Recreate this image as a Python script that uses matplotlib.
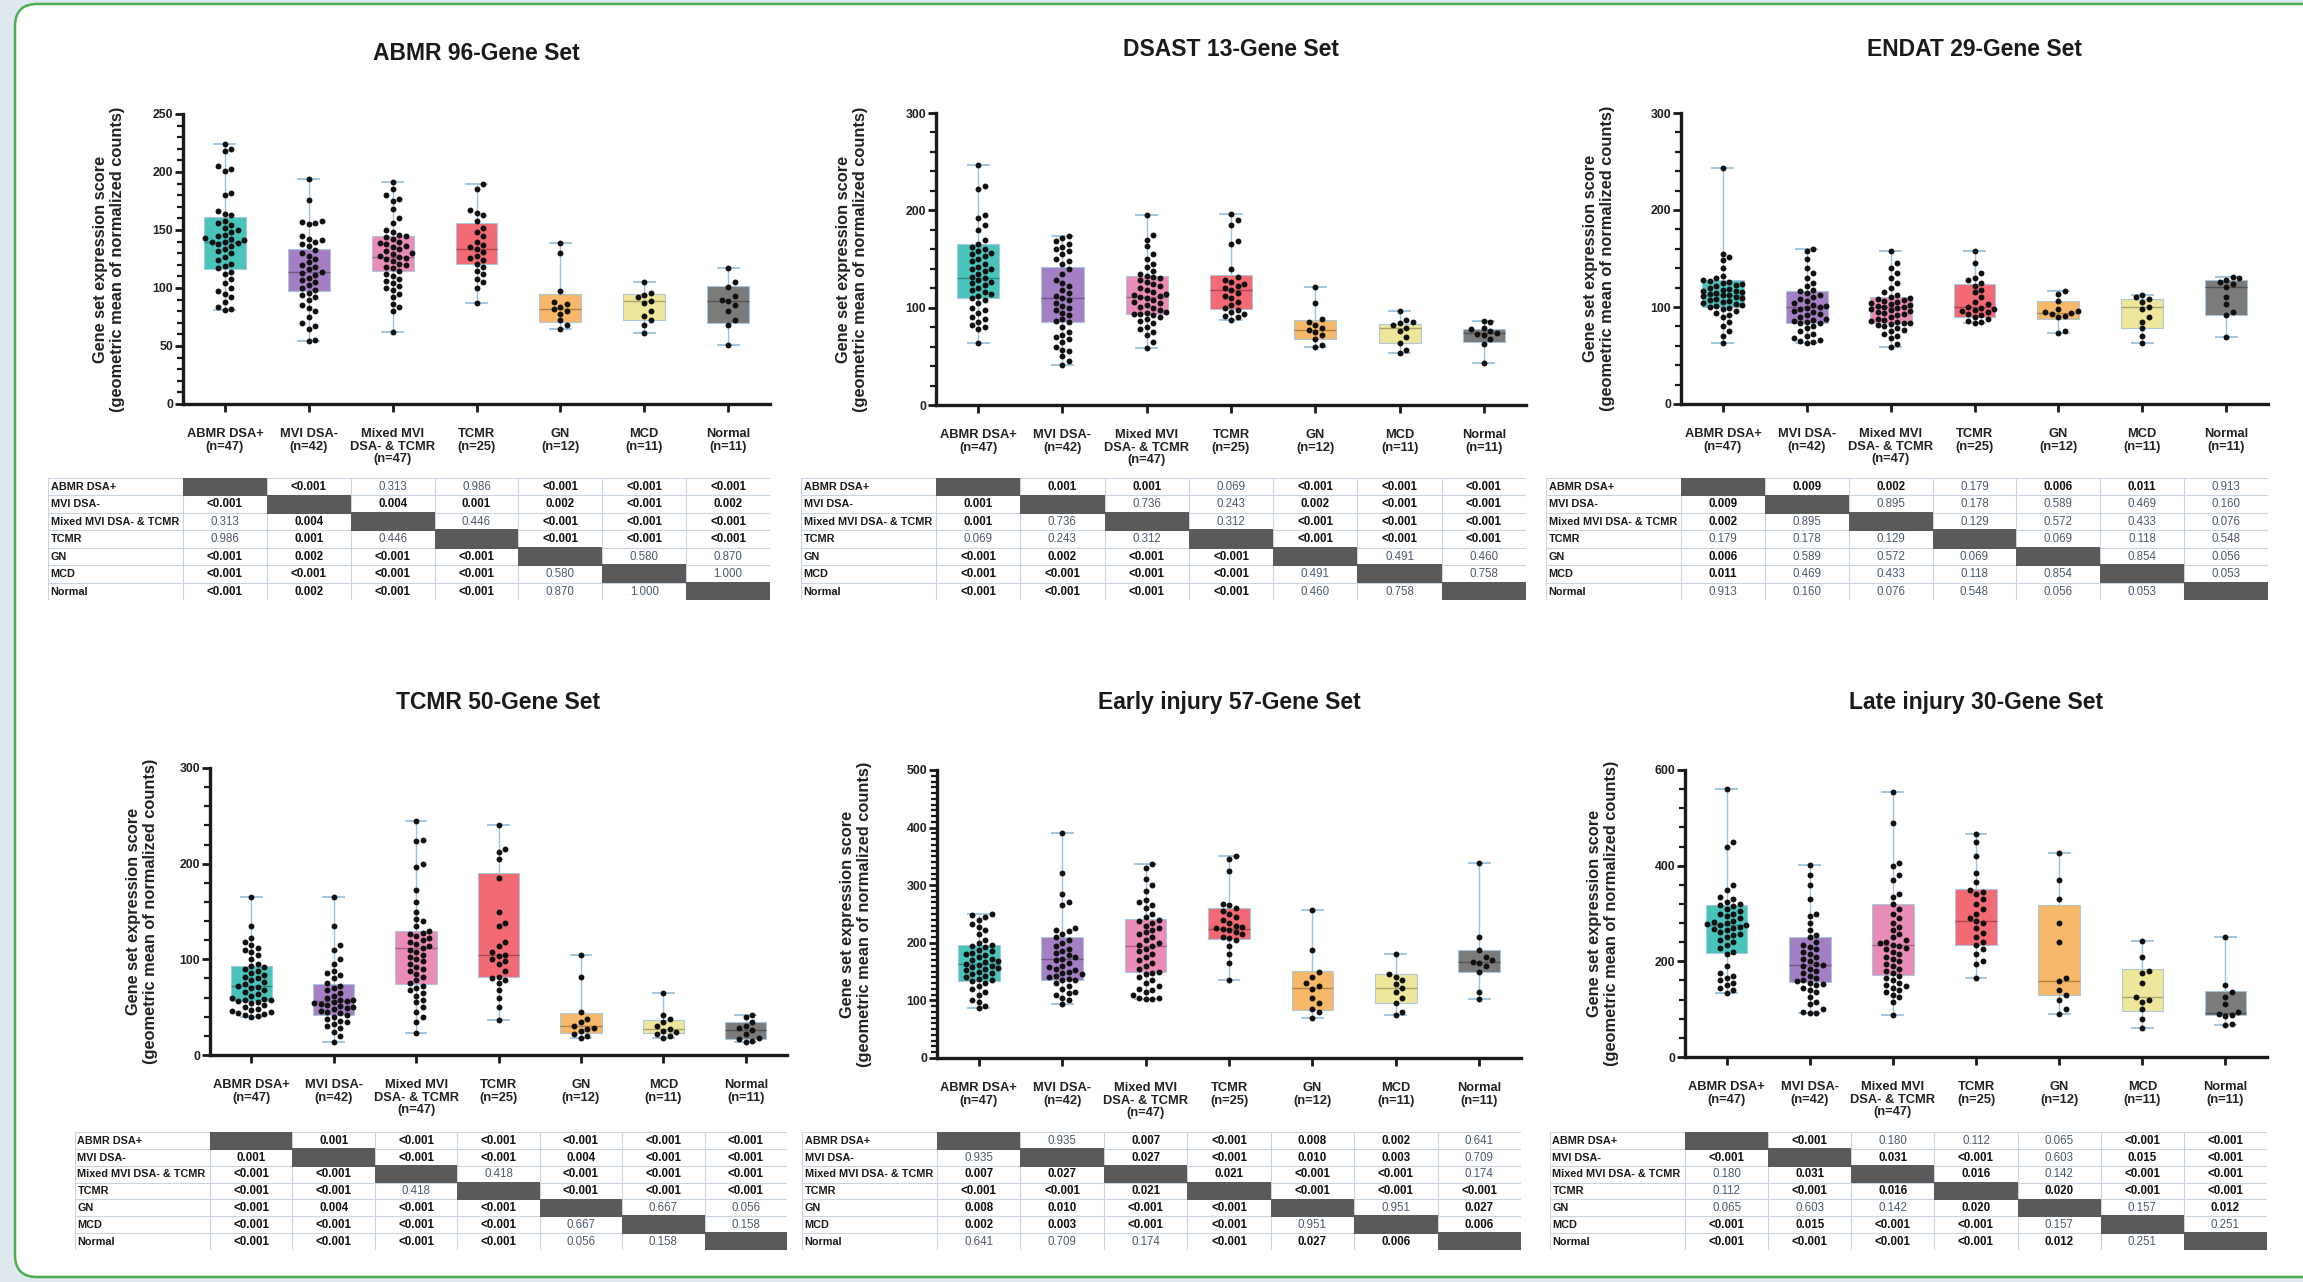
import numpy as np
import matplotlib
matplotlib.use("Agg")
import matplotlib.pyplot as plt
from matplotlib.patches import FancyBboxPatch, Rectangle
from matplotlib.ticker import MultipleLocator
from matplotlib.transforms import IdentityTransform
from matplotlib.colors import to_rgb

plt.rcParams['font.family'] = ['Liberation Sans', 'DejaVu Sans']

W, H, DPI = 2303, 1282, 100

# ---------------- categories ----------------
groups = ["ABMR DSA+", "MVI DSA-", "Mixed MVI\nDSA- & TCMR", "TCMR", "GN", "MCD", "Normal"]
group_n = [47, 42, 47, 25, 12, 11, 11]
row_labels = ["ABMR DSA+", "MVI DSA-", "Mixed MVI DSA- & TCMR", "TCMR", "GN", "MCD", "Normal"]
box_colors = ["#40c0b8", "#a078c0", "#e887b3", "#f2626c", "#f7b462", "#ece596", "#747474"]

# ---------------- ABMR 96-Gene Set ----------------
abmr96_q1 = [116, 97, 115, 121, 71, 72, 70]
abmr96_med = [140, 114, 127, 134, 82, 89, 89]
abmr96_q3 = [161, 134, 145, 156, 95, 95, 102]
abmr96_min = [81, 54, 62, 87, 65, 61, 51]
abmr96_max = [224, 194, 191, 190, 139, 105, 117]
abmr96_points = [
    [224, 220, 218, 205, 203, 201, 182, 180, 166, 164, 163, 158, 156, 154, 152, 150, 148, 146, 145, 143, 142, 141, 140, 140,
     139, 138, 136, 134, 132, 130, 127, 124, 121, 119, 117, 114, 112, 108, 104, 100, 97, 95, 92, 88, 84, 82, 81],
    [194, 176, 158, 157, 156, 155, 145, 142, 141, 140, 138, 136, 133, 130, 128, 125, 122, 120, 118, 116, 114, 113, 111, 109,
     107, 105, 103, 100, 98, 96, 94, 92, 90, 85, 83, 80, 75, 70, 67, 65, 55, 54],
    [191, 185, 180, 177, 175, 168, 160, 156, 150, 148, 146, 145, 144, 142, 140, 139, 138, 136, 135, 134, 132, 130, 129, 128,
     127, 126, 125, 123, 121, 120, 118, 117, 115, 112, 110, 108, 106, 104, 102, 100, 98, 95, 92, 86, 84, 80, 62],
    [190, 185, 167, 165, 163, 158, 152, 148, 145, 140, 137, 135, 134, 131, 128, 126, 124, 121, 118, 115, 112, 108, 105, 100, 87],
    [139, 130, 97, 88, 86, 84, 82, 80, 78, 72, 68, 65],
    [105, 96, 94, 92, 89, 87, 80, 76, 72, 68, 61],
    [117, 105, 101, 93, 90, 89, 85, 80, 72, 68, 51],
]
abmr96_p = ["<0.001", "0.313", "0.986", "<0.001", "<0.001", "<0.001",
            "0.004", "0.001", "0.002", "<0.001", "0.002",
            "0.446", "<0.001", "<0.001", "<0.001",
            "<0.001", "<0.001", "<0.001",
            "0.580", "0.870",
            "1.000"]

# ---------------- DSAST 13-Gene Set ----------------
dsast13_q1 = [110, 85, 93, 99, 68, 64, 65]
dsast13_med = [130, 110, 111, 118, 77, 79, 74]
dsast13_q3 = [165, 142, 133, 134, 87, 83, 78]
dsast13_min = [64, 41, 59, 87, 60, 53, 43]
dsast13_max = [247, 174, 195, 196, 121, 97, 86]
dsast13_points = [
    [247, 225, 222, 195, 192, 185, 180, 170, 165, 162, 160, 158, 156, 155, 153, 150, 148, 145, 142, 140, 138, 135, 132, 130,
     128, 126, 125, 123, 120, 118, 116, 114, 112, 110, 108, 105, 100, 98, 95, 90, 88, 85, 82, 80, 78, 64, 140],
    [174, 172, 168, 165, 162, 160, 158, 155, 150, 148, 145, 140, 135, 128, 125, 122, 118, 115, 112, 110, 108, 105, 102, 100,
     98, 95, 92, 88, 86, 85, 80, 75, 72, 70, 68, 65, 60, 57, 55, 50, 45, 41],
    [195, 175, 170, 163, 155, 150, 145, 142, 138, 135, 133, 131, 130, 128, 126, 124, 122, 120, 118, 116, 114, 113, 112, 111,
     110, 108, 106, 105, 103, 101, 100, 98, 96, 95, 94, 93, 92, 90, 88, 86, 84, 80, 78, 75, 72, 65, 59],
    [196, 190, 185, 168, 165, 140, 132, 128, 126, 124, 122, 120, 118, 115, 112, 110, 106, 103, 100, 98, 96, 93, 91, 90, 87],
    [121, 105, 88, 85, 82, 79, 77, 75, 72, 68, 62, 60],
    [97, 87, 85, 84, 82, 79, 76, 70, 64, 57, 53],
    [86, 85, 79, 78, 76, 74, 73, 72, 68, 63, 43],
]
dsast13_p = ["0.001", "0.001", "0.069", "<0.001", "<0.001", "<0.001",
             "0.736", "0.243", "0.002", "<0.001", "<0.001",
             "0.312", "<0.001", "<0.001", "<0.001",
             "<0.001", "<0.001", "<0.001",
             "0.491", "0.460",
             "0.758"]

# ---------------- ENDAT 29-Gene Set ----------------
endat29_q1 = [100, 83, 83, 90, 88, 78, 92]
endat29_med = [112, 100, 100, 100, 94, 100, 121]
endat29_q3 = [128, 116, 110, 124, 106, 108, 128]
endat29_min = [63, 63, 59, 83, 73, 63, 69]
endat29_max = [243, 160, 158, 158, 117, 112, 131]
endat29_points = [
    [243, 155, 152, 148, 140, 132, 130, 128, 127, 126, 125, 124, 123, 122, 120, 119, 118, 117, 116, 115, 114, 113, 112, 112,
     111, 110, 109, 108, 107, 106, 105, 104, 103, 102, 101, 100, 99, 98, 96, 94, 92, 90, 85, 80, 75, 70, 63],
    [160, 158, 150, 140, 135, 130, 125, 122, 118, 116, 114, 112, 110, 108, 106, 104, 102, 101, 100, 99, 98, 96, 95, 93,
     92, 90, 88, 87, 86, 85, 84, 83, 80, 78, 75, 72, 70, 68, 66, 65, 64, 63],
    [158, 145, 140, 135, 130, 125, 120, 115, 112, 110, 109, 108, 107, 106, 105, 104, 103, 102, 101, 100, 100, 99, 98, 97,
     96, 95, 94, 93, 92, 90, 88, 87, 86, 85, 84, 83, 82, 81, 80, 78, 76, 75, 72, 70, 68, 62, 59],
    [158, 145, 135, 130, 128, 125, 122, 118, 115, 110, 105, 103, 100, 99, 98, 97, 96, 95, 93, 92, 90, 88, 86, 85, 83],
    [117, 113, 106, 98, 96, 95, 94, 93, 91, 90, 75, 73],
    [112, 110, 108, 105, 100, 98, 90, 85, 78, 70, 63],
    [131, 130, 128, 126, 124, 121, 110, 103, 95, 92, 69],
]
endat29_p = ["0.009", "0.002", "0.179", "0.006", "0.011", "0.913",
             "0.895", "0.178", "0.589", "0.469", "0.160",
             "0.129", "0.572", "0.433", "0.076",
             "0.069", "0.118", "0.548",
             "0.854", "0.056",
             "0.053"]

# ---------------- TCMR 50-Gene Set ----------------
tcmr50_q1 = [56, 42, 74, 82, 23, 23, 17]
tcmr50_med = [72, 56, 112, 105, 30, 27, 26]
tcmr50_q3 = [93, 74, 130, 190, 44, 37, 35]
tcmr50_min = [40, 14, 23, 37, 18, 18, 14]
tcmr50_max = [165, 165, 245, 240, 105, 65, 42]
tcmr50_points = [
    [165, 135, 122, 118, 115, 112, 110, 108, 105, 100, 95, 93, 92, 90, 88, 86, 84, 82, 80, 78, 76, 74, 72, 71,
     70, 68, 66, 64, 62, 60, 59, 58, 57, 56, 55, 54, 52, 50, 48, 47, 46, 45, 44, 43, 42, 41, 40],
    [165, 135, 115, 110, 100, 95, 88, 86, 84, 80, 75, 72, 70, 68, 65, 62, 60, 58, 57, 56, 55, 54, 53, 52,
     51, 50, 49, 48, 46, 45, 44, 42, 40, 38, 36, 34, 32, 30, 28, 24, 20, 14],
    [245, 225, 224, 200, 196, 172, 160, 150, 142, 140, 135, 130, 128, 126, 124, 122, 120, 118, 116, 114, 112, 110, 108, 105,
     102, 100, 98, 95, 92, 90, 88, 85, 82, 78, 75, 72, 70, 68, 65, 62, 58, 55, 50, 45, 40, 35, 23],
    [240, 215, 212, 205, 185, 150, 138, 135, 118, 114, 108, 105, 103, 100, 98, 95, 88, 82, 80, 78, 75, 68, 60, 50, 37],
    [105, 82, 45, 38, 35, 30, 28, 27, 25, 22, 20, 18],
    [65, 42, 38, 35, 30, 27, 25, 24, 22, 20, 18],
    [42, 40, 35, 30, 28, 26, 22, 18, 17, 15, 14],
]
tcmr50_p = ["0.001", "<0.001", "<0.001", "<0.001", "<0.001", "<0.001",
            "<0.001", "<0.001", "0.004", "<0.001", "<0.001",
            "0.418", "<0.001", "<0.001", "<0.001",
            "<0.001", "<0.001", "<0.001",
            "0.667", "0.056",
            "0.158"]

# ---------------- Early injury 57-Gene Set ----------------
early57_q1 = [133, 135, 149, 207, 83, 95, 150]
early57_med = [164, 172, 195, 224, 122, 122, 167]
early57_q3 = [197, 210, 241, 261, 151, 145, 188]
early57_min = [86, 93, 103, 135, 70, 75, 102]
early57_max = [250, 391, 336, 350, 257, 181, 339]
early57_points = [
    [250, 248, 245, 240, 232, 228, 222, 215, 205, 200, 197, 195, 192, 188, 185, 182, 180, 178, 175, 172, 170, 168, 166, 164,
     162, 160, 158, 156, 154, 152, 150, 148, 145, 142, 140, 138, 135, 133, 130, 125, 120, 115, 110, 100, 98, 90, 86],
    [391, 322, 285, 270, 265, 225, 222, 220, 215, 210, 205, 200, 195, 190, 185, 182, 178, 175, 172, 170, 165, 160, 158, 155,
     152, 150, 148, 145, 142, 140, 138, 136, 135, 130, 125, 120, 115, 112, 110, 105, 100, 93],
    [336, 330, 310, 300, 290, 275, 270, 265, 260, 250, 245, 240, 238, 235, 230, 225, 222, 218, 215, 210, 205, 200, 197, 195,
     190, 185, 180, 175, 170, 165, 160, 155, 150, 148, 145, 140, 135, 130, 125, 120, 118, 115, 110, 105, 104, 103, 102],
    [350, 345, 325, 268, 265, 260, 255, 250, 245, 240, 235, 230, 228, 225, 224, 222, 218, 215, 210, 208, 205, 195, 180, 165, 135],
    [257, 188, 150, 140, 130, 125, 120, 105, 95, 85, 80, 70],
    [181, 145, 140, 135, 128, 122, 115, 105, 95, 80, 75],
    [339, 210, 188, 175, 170, 167, 165, 160, 150, 115, 102],
]
early57_p = ["0.935", "0.007", "<0.001", "0.008", "0.002", "0.641",
             "0.027", "<0.001", "0.010", "0.003", "0.709",
             "0.021", "<0.001", "<0.001", "0.174",
             "<0.001", "<0.001", "<0.001",
             "0.951", "0.027",
             "0.006"]

# ---------------- Late injury 30-Gene Set ----------------
late30_q1 = [218, 157, 171, 235, 130, 96, 87]
late30_med = [277, 192, 235, 284, 159, 125, 92]
late30_q3 = [317, 251, 320, 351, 317, 184, 137]
late30_min = [134, 91, 87, 166, 90, 60, 66]
late30_max = [560, 402, 554, 466, 426, 242, 251]
late30_points = [
    [560, 450, 440, 360, 350, 335, 330, 325, 320, 318, 315, 310, 305, 300, 298, 295, 290, 285, 282, 280, 278, 277, 275, 272,
     270, 268, 265, 262, 258, 255, 250, 245, 240, 235, 228, 220, 215, 190, 175, 170, 165, 160, 155, 150, 145, 140, 134],
    [402, 380, 360, 330, 300, 295, 280, 265, 255, 250, 240, 235, 230, 225, 220, 215, 210, 205, 200, 195, 192, 190, 185, 180,
     175, 170, 165, 160, 158, 155, 152, 150, 145, 140, 135, 125, 115, 110, 100, 95, 92, 91],
    [554, 490, 405, 400, 380, 370, 340, 335, 320, 310, 300, 290, 280, 272, 265, 258, 250, 245, 240, 238, 235, 232, 228, 225,
     220, 215, 210, 205, 200, 195, 190, 185, 180, 175, 170, 165, 160, 155, 150, 148, 145, 140, 135, 130, 125, 115, 87],
    [466, 450, 420, 385, 365, 350, 345, 340, 330, 320, 310, 300, 290, 284, 280, 270, 260, 250, 240, 235, 225, 215, 200, 195, 166],
    [426, 370, 330, 280, 240, 165, 159, 140, 130, 120, 100, 90],
    [242, 210, 180, 175, 155, 125, 120, 115, 100, 80, 60],
    [251, 150, 135, 125, 110, 95, 90, 88, 85, 70, 66],
]
late30_p = ["<0.001", "0.180", "0.112", "0.065", "<0.001", "<0.001",
            "0.031", "<0.001", "0.603", "0.015", "<0.001",
            "0.016", "0.142", "<0.001", "<0.001",
            "0.020", "<0.001", "<0.001",
            "0.157", "0.012",
            "0.251"]

titles = ["ABMR 96-Gene Set", "DSAST 13-Gene Set", "ENDAT 29-Gene Set",
          "TCMR 50-Gene Set", "Early injury 57-Gene Set", "Late injury 30-Gene Set"]
y_max = [250, 300, 300, 300, 500, 600]
y_major = [50, 100, 100, 100, 100, 200]
y_minor = [10, 20, 20, 20, 10, 40]

panel_data = [
    (abmr96_q1, abmr96_med, abmr96_q3, abmr96_min, abmr96_max, abmr96_points, abmr96_p),
    (dsast13_q1, dsast13_med, dsast13_q3, dsast13_min, dsast13_max, dsast13_points, dsast13_p),
    (endat29_q1, endat29_med, endat29_q3, endat29_min, endat29_max, endat29_points, endat29_p),
    (tcmr50_q1, tcmr50_med, tcmr50_q3, tcmr50_min, tcmr50_max, tcmr50_points, tcmr50_p),
    (early57_q1, early57_med, early57_q3, early57_min, early57_max, early57_points, early57_p),
    (late30_q1, late30_med, late30_q3, late30_min, late30_max, late30_points, late30_p),
]

# layout in pixels: (left, right, top, bottom) of plot axes
plot_rects = [(183, 770, 114, 404), (936, 1526, 113, 405), (1681, 2268, 113, 404),
              (210, 787, 768, 1055), (937, 1521, 770, 1058), (1685, 2267, 770, 1057)]
table_rows_px = [(478, 600), (478, 600), (478, 600), (1132, 1250), (1132, 1250), (1132, 1250)]
title_y_px = [53, 49, 49, 702, 702, 702]
ylabel_off_px = [74, 84, 82, 68, 81, 82]
label_col_px = 135

fig = plt.figure(figsize=(W / DPI, H / DPI), dpi=DPI)
fig.patch.set_facecolor("#dfe7ef")
frame = FancyBboxPatch((15, 5), 2400, 1273, boxstyle="round,pad=0,rounding_size=22",
                       transform=IdentityTransform(), facecolor="white", edgecolor="#4caf50",
                       linewidth=1.8, zorder=0)
fig.add_artist(frame)


def swarm_offsets(vals, px_x, px_y, d=6.5, step=6.5, maxk=3):
    vals = np.asarray(vals, float)
    order = np.argsort(vals)
    placed = []
    offs = np.zeros(len(vals))
    cands = [0.0]
    for k in range(1, maxk + 1):
        cands += [k * step, -k * step]
    for idx in order:
        y = vals[idx] * px_y
        best = None
        for c in cands:
            if all((c - px) ** 2 + (y - py) ** 2 >= d * d for px, py in placed):
                best = c
                break
        if best is None:
            best = max(cands, key=lambda c: min((c - px) ** 2 + (y - py) ** 2 for px, py in placed))
        placed.append((best, y))
        offs[idx] = best / px_x
    return offs


def p_is_sig(s):
    return s.startswith("<") or float(s) < 0.05


for k in range(6):
    q1, med, q3, lo, hi, pts, pv = panel_data[k]
    L, R, T, B = plot_rects[k]
    ax = fig.add_axes([L / W, 1 - B / H, (R - L) / W, (B - T) / H])
    ax.set_xlim(-0.5, 6.5)
    ax.set_ylim(0, y_max[k])
    stats = [dict(q1=q1[i], med=med[i], q3=q3[i], whislo=lo[i], whishi=hi[i], fliers=[]) for i in range(7)]
    bp = ax.bxp(stats, positions=list(range(7)), widths=0.5, patch_artist=True, showfliers=False,
                capwidths=0.25,
                boxprops=dict(linewidth=0.8, edgecolor="#a9c7dc"),
                whiskerprops=dict(color="#9cc3de", linewidth=1.0),
                capprops=dict(color="#9cc3de", linewidth=1.3),
                medianprops=dict(linewidth=1.0), zorder=1)
    for i, patch in enumerate(bp["boxes"]):
        patch.set_facecolor(box_colors[i])
        patch.set_alpha(0.95)
        c = np.array(to_rgb(box_colors[i])) * 0.72
        bp["medians"][i].set_color(c)
    px_x = (R - L) / 7.0
    px_y = (B - T) / y_max[k]
    for i in range(7):
        offs = swarm_offsets(pts[i], px_x, px_y)
        ax.scatter(i + offs, pts[i], s=18, color="#111111", zorder=3, linewidths=0)

    for s in ["top", "right"]:
        ax.spines[s].set_visible(False)
    for s in ["left", "bottom"]:
        ax.spines[s].set_linewidth(2.4)
        ax.spines[s].set_color("#1a1a1a")
    ax.set_yticks(np.arange(0, y_max[k] + 1, y_major[k]))
    ax.yaxis.set_minor_locator(MultipleLocator(y_minor[k]))
    ax.tick_params(axis="y", which="major", length=6, width=2, labelsize=8.8, pad=1, color="#1a1a1a")
    ax.tick_params(axis="y", which="minor", length=4, width=1.6, color="#1a1a1a")
    for lbl in ax.get_yticklabels():
        lbl.set_fontweight("bold")
        lbl.set_color("#222222")
    ax.set_xticks(list(range(7)))
    ax.set_xticklabels([f"{g}\n(n={n})" for g, n in zip(groups, group_n)], fontsize=9.3,
                       fontweight="bold", color="#222222", linespacing=1.1, va="top")
    ax.tick_params(axis="x", length=6, width=2, pad=11, color="#1a1a1a")
    ax.text(-ylabel_off_px[k] / (R - L), 0.5,
            "Gene set expression score\n(geometric mean of normalized counts)",
            rotation=90, ha="center", va="center", transform=ax.transAxes,
            fontsize=11.8, fontweight="bold", color="#222222", linespacing=1.12)
    fig.text((L + R) / 2 / W, 1 - title_y_px[k] / H, titles[k], ha="center", va="center",
             fontsize=16.5, fontweight="bold", color="#1a1a1a")

    # ---- p-value table ----
    tT, tB = table_rows_px[k]
    lw_units = label_col_px / px_x
    tax = fig.add_axes([(L - label_col_px) / W, 1 - tB / H, (R - L + label_col_px) / W, (tB - tT) / H])
    tax.set_xlim(-0.5 - lw_units, 6.5)
    tax.set_ylim(7, 0)
    tax.axis("off")
    grid_c = "#c9d6e2"
    for r in range(8):
        tax.plot([-0.5 - lw_units, 6.5], [r, r], color=grid_c, lw=0.8, zorder=1)
    for cidx in range(8):
        tax.plot([-0.5 + cidx, -0.5 + cidx], [0, 7], color=grid_c, lw=0.8, zorder=1)
    tax.plot([-0.5 - lw_units] * 2, [0, 7], color=grid_c, lw=0.8, zorder=1)
    mat = [["" for _ in range(7)] for _ in range(7)]
    idx = 0
    for i in range(7):
        for j in range(i + 1, 7):
            mat[i][j] = pv[idx]
            mat[j][i] = pv[idx]
            idx += 1
    for i in range(7):
        tax.text(-0.5 - lw_units + 0.03, i + 0.52, row_labels[i], ha="left", va="center",
                 fontsize=7.8, fontweight="bold", color="#1a1a1a")
        tax.add_patch(Rectangle((i - 0.5, i - 0.05), 1.0, 1.1, facecolor="#5a5a5a",
                                edgecolor="none", zorder=2))
        for j in range(7):
            if i == j:
                continue
            s = mat[i][j]
            sig = p_is_sig(s)
            tax.text(j, i + 0.52, s, ha="center", va="center", fontsize=8.3,
                     fontweight="bold" if sig else "normal",
                     color="#111111" if sig else "#4d5b6b", zorder=3)

fig.savefig("out.png", dpi=DPI)
